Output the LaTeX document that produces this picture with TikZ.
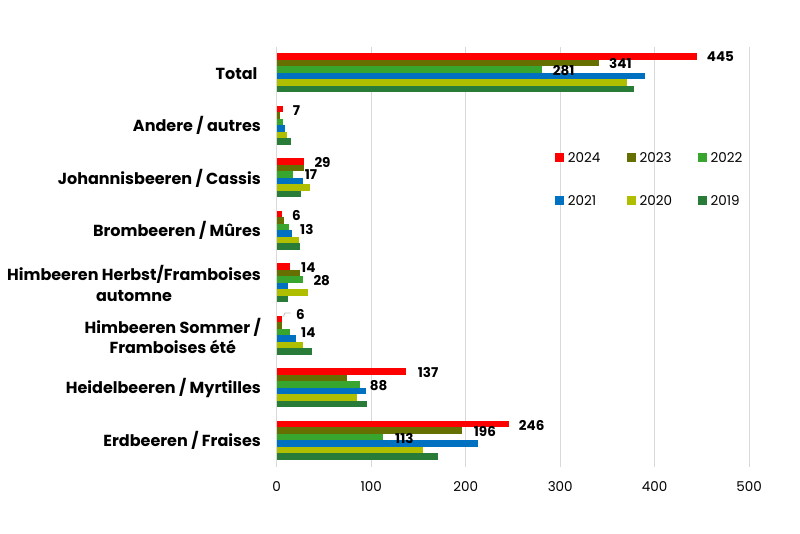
\documentclass[tikz,border=0pt]{standalone}
\usepackage{fontspec}
\setmainfont{Poppins}
\definecolor{c24}{RGB}{255,0,0}
\definecolor{c23}{RGB}{102,112,0}
\definecolor{c22}{RGB}{56,166,46}
\definecolor{c21}{RGB}{0,112,192}
\definecolor{c20}{RGB}{176,190,0}
\definecolor{c19}{RGB}{40,124,56}
\definecolor{gridc}{RGB}{217,217,217}
\begin{document}
\begin{tikzpicture}[x=1pt,y=-1pt,
  grid/.style={draw=gridc,line width=1pt},
  catlabel/.style={anchor=east,align=center,font=\fontsize{16}{20.6}\selectfont\bfseries,inner sep=0pt},
  vallabel/.style={anchor=west,font=\fontsize{13.5}{14}\selectfont\bfseries,inner sep=0pt},
  ticklabel/.style={anchor=center,font=\fontsize{13.5}{14}\selectfont,inner sep=0pt},
  legtext/.style={anchor=west,font=\fontsize{13.5}{14}\selectfont,inner sep=0pt},
  legmark/.style={minimum size=9pt,inner sep=0pt,anchor=center}]
\useasboundingbox (0,0) rectangle (800,534);
\fill[white] (0,0) rectangle (800,534);
% grid
\foreach \v in {0,100,...,500}{
  \draw[grid] ({276.7+0.945*\v},47) -- ({276.7+0.945*\v},467);
  \node[ticklabel] (t\v) at ({276.7+0.945*\v},487) {\v};
}
% bars
\foreach \vals [count=\i from 0] in {
  {445,341,281,390,371,378},
  {7,3,7,9,11,15},
  {29,29,17,28,35,26},
  {6,8,13,16,24,25},
  {14,25,28,12,33,12},
  {6,6,14,20,28,37},
  {137,74,88,95,85,96},
  {246,196,113,213,155,171}}{
  \foreach \v [count=\j from 0] in \vals {
    \pgfmathsetmacro{\yt}{47+52.5*\i+6.3+6.5*\j}
    \ifcase\j \def\cc{c24}\or\def\cc{c23}\or\def\cc{c22}\or\def\cc{c21}\or\def\cc{c20}\or\def\cc{c19}\fi
    \fill[\cc] (276.7,\yt) rectangle ({276.7+0.945*\v},{\yt+6.5});
  }
}
% category labels
\node[catlabel] (cTotal) at (261,73.3) {Total };
\node[catlabel] (cAndere) at (261,125.8) {Andere / autres};
\node[catlabel] (cCassis) at (261,178.3) {Johannisbeeren / Cassis};
\node[catlabel] (cBrom) at (261,230.8) {Brombeeren / Mûres};
\node[catlabel] (cHerbst) at (261,283.3) {Himbeeren Herbst/Framboises\\automne};
\node[catlabel] (cSommer) at (261,335.8) {Himbeeren Sommer /\\Framboises été};
\node[catlabel] (cHeidel) at (261,388.3) {Heidelbeeren / Myrtilles};
\node[catlabel] (cErd) at (261,440.8) {Erdbeeren / Fraises};
% value labels
\node[vallabel] (v445) at (706.7,57) {445};
\node[vallabel] (v341) at (609,64) {341};
\node[vallabel] (v281) at (552.7,70.7) {281};
\node[vallabel] (v7) at (292.7,110.7) {7};
\node[vallabel] (v29) at (314.3,162.7) {29};
\node[vallabel] (v17) at (304.7,175) {17};
\node[vallabel] (v6a) at (292,215) {6};
\node[vallabel] (v13) at (300,229) {13};
\node[vallabel] (v14a) at (301,267.3) {14};
\node[vallabel] (v28) at (313.3,280.7) {28};
\node[vallabel] (v6b) at (296,314) {6};
\node[vallabel] (v14b) at (301,332.7) {14};
\node[vallabel] (v137) at (417.7,372.7) {137};
\node[vallabel] (v88) at (369.7,386) {88};
\node[vallabel] (v246) at (518.7,425.3) {246};
\node[vallabel] (v196) at (473.7,431.7) {196};
\node[vallabel] (v113) at (395,438.3) {113};
\coordinate (lead) at (283.5,316.5);
\draw[gridc!70!gray,line width=0.8pt] (lead) -- ++(1.5,-3.5) -- ++(5.5,0);
% legend
\foreach \yr/\cl/\mx/\my in {2024/c24/559.5/157.3,2023/c23/631.2/157.3,2022/c22/702.2/157.3,2021/c21/559.5/201,2020/c20/631.2/201,2019/c19/702.2/201}{
  \node[legmark,fill=\cl] (m\yr) at (\mx,\my) {};
  \node[legtext] (l\yr) at (\mx+8.2,\my) {\yr};
}
\end{tikzpicture}
\end{document}
